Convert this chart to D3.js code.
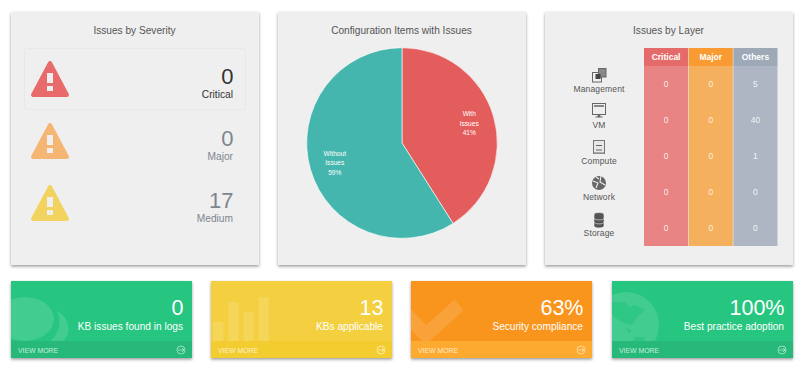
<!DOCTYPE html>
<html>
<head>
<meta charset="utf-8">
<script src="https://cdn.jsdelivr.net/npm/d3@7"></script>
<style>
  html, body { margin: 0; padding: 0; background: #fff; }
  svg { display: block; }
  text { font-family: "Liberation Sans", Arial, sans-serif; }
</style>
</head>
<body>
<svg id="chart" width="800" height="369"></svg>
<script>
// severity panel
var severityLabels = ["Critical", "Major", "Medium"];
var severityValues = [0, 0, 17];
var severityColors = ["#e96a6a", "#f5b673", "#f3d35f"];

// pie panel
var pieLabels = [["With", "Issues"], ["Without", "Issues"]];
var pieValues = [41, 59];
var pieColors = ["#e45d5d", "#44b6ad"];

// layer table
var layers = ["Management", "VM", "Compute", "Network", "Storage"];
var layerColumns = ["Critical", "Major", "Others"];
var criticalByLayer = [0, 0, 0, 0, 0];
var majorByLayer = [0, 0, 0, 0, 0];
var othersByLayer = [5, 40, 1, 0, 0];
var headColors = ["#e56a6a", "#f99b32", "#9ea9b8"];
var bodyColors = ["#e88484", "#f4b05c", "#afb6c3"];

// bottom cards
var cardValues = ["0", "13", "63%", "100%"];
var cardLabels = ["KB issues found in logs", "KBs applicable", "Security compliance", "Best practice adoption"];
var cardColors = ["#28c580", "#f4d03f", "#f9951f", "#28c580"];
var footColors = ["#26b97a", "#f3cc30", "#fdaa30", "#26b97a"];
var decoBars = [19, 39, 29, 44];

var svg = d3.select("#chart");
var defs = svg.append("defs");

var shadow = defs.append("filter").attr("id", "shadow")
  .attr("x", "-5%").attr("y", "-5%").attr("width", "110%").attr("height", "115%");
shadow.append("feDropShadow").attr("dx", 0).attr("dy", 1.5).attr("stdDeviation", 1.5)
  .attr("flood-color", "#000").attr("flood-opacity", 0.4);

// panels
var panelX = [11, 278, 545];
var panelW = 248;
svg.selectAll(".panel").data(panelX).enter().append("rect")
  .attr("class", "panel")
  .attr("x", function(d) { return d; })
  .attr("y", 12)
  .attr("width", panelW)
  .attr("height", 253)
  .attr("fill", "#efefef")
  .attr("filter", "url(#shadow)");

var titles = ["Issues by Severity", "Configuration Items with Issues", "Issues by Layer"];
svg.selectAll(".title").data(titles).enter().append("text")
  .attr("class", "title")
  .attr("x", function(d, i) { return panelX[i] + panelW / 2 - 0.5; })
  .attr("y", 34)
  .attr("text-anchor", "middle")
  .attr("font-size", 10.15)
  .attr("fill", "#555")
  .text(function(d) { return d; });

// severity rows
var sevY = d3.scalePoint().domain(severityLabels).range([0, 124]);

svg.append("rect")
  .attr("x", 24.5).attr("y", 48.5).attr("width", 221).attr("height", 61)
  .attr("rx", 2)
  .attr("fill", "none").attr("stroke", "#e8e8e8");

var sev = svg.selectAll(".sev").data(severityLabels).enter().append("g")
  .attr("class", "sev")
  .attr("transform", function(d) { return "translate(0," + sevY(d) + ")"; });

sev.append("path")
  .attr("d", "M50,63L33,95L67,95Z")
  .attr("fill", function(d, i) { return severityColors[i]; })
  .attr("stroke", function(d, i) { return severityColors[i]; })
  .attr("stroke-width", 4)
  .attr("stroke-linejoin", "round");
sev.append("rect").attr("x", 47).attr("y", 73).attr("width", 6).attr("height", 10).attr("fill", "#efefef");
sev.append("rect").attr("x", 47).attr("y", 86).attr("width", 6).attr("height", 5).attr("fill", "#efefef");

sev.append("text")
  .attr("x", 233.5).attr("y", 83.5)
  .attr("text-anchor", "end")
  .attr("font-size", 22)
  .attr("fill", function(d, i) { return i == 0 ? "#333" : "#7d868e"; })
  .text(function(d, i) { return severityValues[i]; });
sev.append("text")
  .attr("x", 233).attr("y", 98)
  .attr("text-anchor", "end")
  .attr("font-size", 10.2)
  .attr("fill", function(d, i) { return i == 0 ? "#333" : "#7d868e"; })
  .text(function(d) { return d; });

// pie
var pie = d3.pie().sort(null)(pieValues);
var arc = d3.arc().innerRadius(0).outerRadius(95.3);
var labelArc = d3.arc().innerRadius(70).outerRadius(70);

var pieG = svg.append("g").attr("transform", "translate(402,143)");
pieG.selectAll("path").data(pie).enter().append("path")
  .attr("d", arc)
  .attr("fill", function(d, i) { return pieColors[i]; })
  .attr("stroke", "#fff")
  .attr("stroke-width", 0.6);

var pieText = pieG.selectAll("text").data(pie).enter().append("text")
  .attr("transform", function(d) { return "translate(" + labelArc.centroid(d) + ")"; })
  .attr("text-anchor", "middle")
  .attr("font-size", 6.6)
  .attr("fill", "#fff");
pieText.each(function(d, i) {
  var t = d3.select(this);
  pieLabels[i].concat([pieValues[i] + "%"]).forEach(function(s, k) {
    t.append("tspan").attr("x", 0).attr("y", (k - 1) * 9.5 + 2.5).text(s);
  });
});

// layer table
var colX = d3.scaleBand().domain(layerColumns).range([644, 777.5]).paddingInner(0.012);
var rowY = d3.scaleBand().domain(layers).range([66, 246]);
var layerRows = [criticalByLayer, majorByLayer, othersByLayer];

svg.selectAll(".head").data(layerColumns).enter().append("rect")
  .attr("x", function(d) { return colX(d); })
  .attr("y", 48).attr("width", colX.bandwidth()).attr("height", 18)
  .attr("fill", function(d, i) { return headColors[i]; });
svg.selectAll(".body").data(layerColumns).enter().append("rect")
  .attr("x", function(d) { return colX(d); })
  .attr("y", 66).attr("width", colX.bandwidth()).attr("height", 180)
  .attr("fill", function(d, i) { return bodyColors[i]; });
svg.selectAll(".headText").data(layerColumns).enter().append("text")
  .attr("x", function(d) { return colX(d) + colX.bandwidth() / 2; })
  .attr("y", 60)
  .attr("text-anchor", "middle")
  .attr("font-size", 8.5)
  .attr("font-weight", "bold")
  .attr("fill", "#fff")
  .text(function(d) { return d; });

layerColumns.forEach(function(c, ci) {
  svg.selectAll(".cell" + ci).data(layerRows[ci]).enter().append("text")
    .attr("x", colX(c) + colX.bandwidth() / 2)
    .attr("y", function(d, i) { return rowY(layers[i]) + rowY.bandwidth() / 2 + 2.5; })
    .attr("text-anchor", "middle")
    .attr("font-size", 8.5)
    .attr("fill", "#fff")
    .attr("fill-opacity", 0.85)
    .text(function(d) { return d; });
});

// layer icons and names, centred on x=599
var layerG = svg.selectAll(".layer").data(layers).enter().append("g")
  .attr("class", "layer")
  .attr("transform", function(d) { return "translate(599," + (rowY(d) + rowY.bandwidth() / 2) + ")"; });
layerG.append("text")
  .attr("y", 8)
  .attr("text-anchor", "middle")
  .attr("font-size", 8.5)
  .attr("fill", "#555")
  .attr("letter-spacing", 0.15)
  .text(function(d) { return d; });

var iconColor = "#666";
function drawIcon(g, name) {
  if (name == "Management") {
    g.append("rect").attr("x", -6.5).attr("y", -11.5).attr("width", 9).attr("height", 9.5).attr("fill", "#efefef").attr("stroke", iconColor);
    g.append("rect").attr("x", -0.5).attr("y", -15.5).attr("width", 7.5).attr("height", 8.5).attr("fill", "#888").attr("stroke", iconColor);
    g.append("rect").attr("x", -3.5).attr("y", -10).attr("width", 5).attr("height", 5).attr("fill", "#444");
  } else if (name == "VM") {
    g.append("rect").attr("x", -6.5).attr("y", -16.5).attr("width", 13).attr("height", 11).attr("fill", "#efefef").attr("stroke", iconColor);
    g.append("rect").attr("x", -5).attr("y", -15).attr("width", 10).attr("height", 2).attr("fill", "#888");
    g.append("path").attr("d", "M-1,-5.5H1L1.5,-3.5H3.5V-2.5H-3.5V-3.5H-1.5Z").attr("fill", iconColor);
  } else if (name == "Compute") {
    g.append("rect").attr("x", -5.5).attr("y", -15.5).attr("width", 11).attr("height", 13).attr("fill", "#e8e8e8").attr("stroke", "#777");
    g.append("rect").attr("x", -3).attr("y", -11).attr("width", 6).attr("height", 1).attr("fill", iconColor);
    g.append("rect").attr("x", -3).attr("y", -6.5).attr("width", 6).attr("height", 1).attr("fill", iconColor);
    g.append("rect").attr("x", -5).attr("y", -4).attr("width", 10).attr("height", 1.5).attr("fill", "#aaa");
  } else if (name == "Network") {
    g.append("circle").attr("cy", -9).attr("r", 7).attr("fill", iconColor);
    g.append("path").attr("d", "M-6,-11L-1,-9L-3,-4M2,-16L1,-10L6,-7M-3,-15L0,-13").attr("fill", "none").attr("stroke", "#efefef").attr("stroke-width", 1.1);
  } else {
    d3.range(3).reverse().forEach(function(k) {
      g.append("path")
        .attr("d", "M-5," + (-13 + k * 4) + "A5,2.4 0 0 1 5," + (-13 + k * 4) + "V" + (-10.5 + k * 4) + "A5,2.4 0 0 1 -5," + (-10.5 + k * 4) + "Z")
        .attr("fill", "#555").attr("stroke", "#efefef").attr("stroke-width", 0.6);
    });
  }
}
layerG.each(function(d) { drawIcon(d3.select(this), d); });

// bottom cards
var cardX = [11, 211, 411, 612];
var cardW = 181, cardH = 77;
var cards = svg.selectAll(".card").data(cardValues).enter().append("g")
  .attr("class", "card")
  .attr("transform", function(d, i) { return "translate(" + cardX[i] + ",281)"; });

cards.append("rect")
  .attr("width", cardW).attr("height", cardH)
  .attr("fill", function(d, i) { return cardColors[i]; })
  .attr("filter", "url(#shadow)");

defs.append("clipPath").attr("id", "cardClip").append("rect").attr("width", cardW).attr("height", 60);

var deco = cards.append("g").attr("clip-path", "url(#cardClip)").attr("fill", "#fff").attr("fill-opacity", 0.13);

// speech bubbles
d3.select(deco.nodes()[0]).call(function(g) {
  g.append("ellipse").attr("cx", 14).attr("cy", 38).attr("rx", 29).attr("ry", 22);
  g.append("path").attr("d", "M46,30C54,34 59,42 57,52C56,56 54,58 52,60L40,60C48,52 51,40 46,30Z");
});

// little bars
var barX = d3.scaleBand().domain(d3.range(decoBars.length)).range([2.3, 57.7]).paddingInner(0.33);
var barY = d3.scaleLinear().domain([0, 44]).range([60, 16]);
d3.select(deco.nodes()[1]).selectAll("rect").data(decoBars).enter().append("rect")
  .attr("x", function(d, i) { return barX(i); })
  .attr("y", function(d) { return barY(d); })
  .attr("width", barX.bandwidth())
  .attr("height", function(d) { return 60 - barY(d); });

// check mark
d3.select(deco.nodes()[2]).append("path")
  .attr("d", "M-5,33L15,54L48,24")
  .attr("fill", "none").attr("stroke", "#fff").attr("stroke-opacity", 0.13).attr("stroke-width", 14).attr("stroke-linejoin", "miter");

// globe with continents cut back to the card colour
d3.select(deco.nodes()[3]).call(function(g) {
  g.append("circle").attr("cx", 14).attr("cy", 44).attr("r", 33);
  g.append("path")
    .attr("d", "M0,21L13,21L17,26L23,24L33,29L26,35L20,44L12,42L5,38L0,34ZM13,45L20,50L17,52ZM22,56L32,56L33,60L23,60Z")
    .attr("fill", cardColors[3]).attr("fill-opacity", 0.75);
});

// text
cards.append("text")
  .attr("x", cardW - 8.5).attr("y", 34)
  .attr("text-anchor", "end")
  .attr("font-size", 21.5)
  .attr("fill", "#fff")
  .text(function(d) { return d; });
cards.append("text")
  .attr("x", cardW - 9).attr("y", 49)
  .attr("text-anchor", "end")
  .attr("font-size", 10.15)
  .attr("fill", "#fff")
  .text(function(d, i) { return cardLabels[i]; });

// footer
cards.append("rect")
  .attr("y", 60).attr("width", cardW).attr("height", 17)
  .attr("fill", function(d, i) { return footColors[i]; });
cards.append("text")
  .attr("x", 7).attr("y", 71.5)
  .attr("font-size", 6.9)
  .attr("fill", "#fff").attr("fill-opacity", 0.75)
  .text("VIEW MORE");
cards.append("circle")
  .attr("cx", 170).attr("cy", 69).attr("r", 4)
  .attr("fill", "none").attr("stroke", "#fff").attr("stroke-opacity", 0.65).attr("stroke-width", 0.8);
cards.append("path")
  .attr("d", "M167,69H173M171,67L173,69L171,71")
  .attr("fill", "none").attr("stroke", "#fff").attr("stroke-opacity", 0.65).attr("stroke-width", 0.8);
</script>
</body>
</html>
